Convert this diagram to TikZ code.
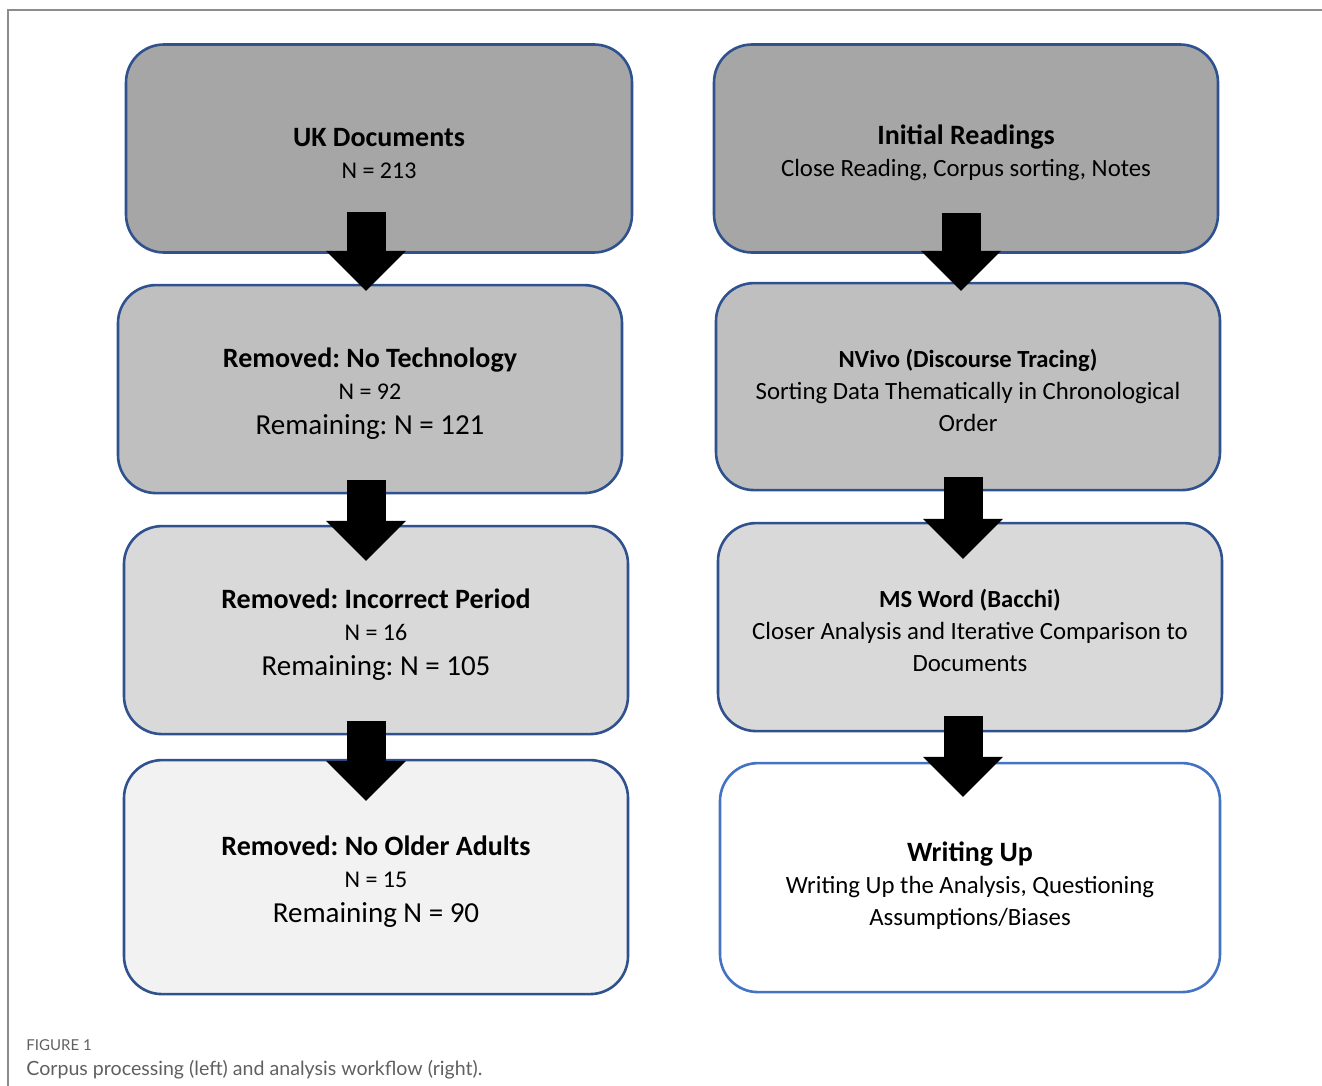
\documentclass[tikz,border=0pt]{standalone}
\usepackage{fontspec}
\setmainfont{Carlito}
\newfontfamily\captionfont{Lato}
\usepackage{xcolor}
\usetikzlibrary{positioning,arrows.meta,calc}
\definecolor{FlowBlue}{HTML}{2F528F}
\definecolor{FlowLightBlue}{HTML}{4472C4}
\definecolor{FrameGray}{HTML}{8C8C8C}
\definecolor{CaptionGray}{HTML}{606060}
\definecolor{ShadeA}{HTML}{A6A6A6}
\definecolor{ShadeB}{HTML}{BFBFBF}
\definecolor{ShadeC}{HTML}{D9D9D9}
\definecolor{ShadeD}{HTML}{F2F2F2}
% first line strut pushes the text block a little below the box centre
\newcommand{\flowtitle}[2][14.5pt]{{\fontsize{14}{16}\selectfont\bfseries\rule{0pt}{#1}#2}}
\newcommand{\flowsubtitle}[1]{{\fontsize{12.3}{16}\selectfont\bfseries\rule{0pt}{12.5pt}#1}}
\newcommand{\flowcount}[1]{{\fontsize{14.5}{16}\selectfont #1}}
\frenchspacing

\begin{document}
\begin{tikzpicture}[x=0.5pt, y=-0.5pt,
                    every node/.style={align=center, inner sep=0pt},
                    flowbox/.style={draw=FlowBlue, line width=1.3pt, rounded corners=19pt,
                                    minimum width=252pt, minimum height=104pt,
                                    font=\fontsize{12}{16}\selectfont},
                    flowtext/.style={font=\fontsize{12.4}{16}\selectfont},
                    blockarrow/.style={line width=19.5pt,
                                       -{Triangle[width=40pt, length=20pt, line width=0pt]}}]
  \useasboundingbox (0,0) rectangle (1322,1086);
  \draw[FrameGray, line width=0.6pt] (1322,10) -- (8,10) -- (8,1086);
  % corpus processing (left)
  \node[flowbox, fill=ShadeA, minimum width=253pt] (uk) at (379,148.5)
       {\flowtitle{UK Documents}\\ N = 213};
  \node[flowbox, fill=ShadeB, below=15pt of uk, xshift=-4.5pt] (notech)
       {\flowtitle{Removed: No Technology}\\ N = 92\\[1.5pt] \flowcount{Remaining: N = 121}};
  \node[flowbox, fill=ShadeC, below=15.2pt of notech, xshift=3pt] (period)
       {\flowtitle{Removed: Incorrect Period}\\ N = 16\\[1.5pt] \flowcount{Remaining: N = 105}};
  \node[flowbox, fill=ShadeD, below=11.7pt of period, minimum height=117pt] (older)
       {\flowtitle{Removed: No Older Adults}\\ N = 15\\[1.5pt] \flowcount{Remaining N = 90}};
  % analysis workflow (right)
  \node[flowbox, flowtext, fill=ShadeA] (init) at (966,148.5)
       {\flowtitle{Initial Readings}\\ Close Reading, Corpus sorting, Notes};
  \node[flowbox, flowtext, fill=ShadeB, below=14pt of init, xshift=1pt,
        minimum height=103.5pt] (nvivo)
       {\flowsubtitle{NVivo (Discourse Tracing)}\\ Sorting Data Thematically in Chronological\\ Order};
  \node[flowbox, flowtext, fill=ShadeC, below=15.2pt of nvivo, xshift=1pt] (msword)
       {\flowsubtitle{MS Word (Bacchi)}\\ Closer Analysis and Iterative Comparison to\\ Documents};
  \node[flowbox, flowtext, draw=FlowLightBlue, fill=white, below=14.7pt of msword,
        minimum width=250pt, minimum height=114.5pt] (writing)
       {\flowtitle[17.5pt]{Writing Up}\\ Writing Up the Analysis, Questioning\\ Assumptions/Biases};
  % block arrows
  \coordinate (leftaxis) at (366,0);
  \coordinate (rightaxis) at (963,0);
  \draw[blockarrow] ($(uk.south -| leftaxis)+(0,21pt)$) -- ($(notech.north -| leftaxis)+(0,-3.5pt)$);
  \draw[blockarrow] ($(notech.south -| leftaxis)+(0,7pt)$) -- ($(period.north -| leftaxis)+(0,-18pt)$);
  \draw[blockarrow] ($(period.south -| leftaxis)+(0,7pt)$) -- ($(older.north -| leftaxis)+(0,-21pt)$);
  \draw[blockarrow] ($(init.south -| rightaxis)+(-1pt,20.5pt)$) -- ($(nvivo.north -| rightaxis)+(-1pt,-4.5pt)$);
  \draw[blockarrow] ($(nvivo.south -| rightaxis)+(0,7pt)$) -- ($(msword.north -| rightaxis)+(0,-18.5pt)$);
  \draw[blockarrow] ($(msword.south -| rightaxis)+(0,8pt)$) -- ($(writing.north -| rightaxis)+(0,-17.5pt)$);
  % caption
  \node[anchor=base west, font=\captionfont\fontsize{7.5}{9}\selectfont, text=CaptionGray]
       (figlabel) at (26,1050) {FIGURE 1};
  \node[anchor=base west, font=\captionfont\fontsize{9.8}{11}\selectfont, text=CaptionGray]
       (figcaption) at (26,1075) {Corpus processing (left) and analysis workflow (right).};
\end{tikzpicture}
\end{document}
